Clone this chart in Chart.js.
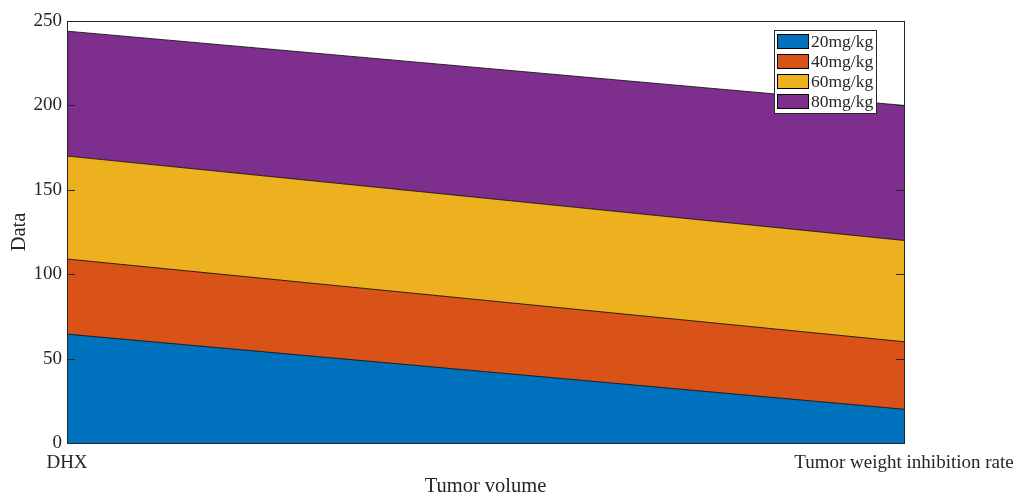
<!DOCTYPE html>
<html>
<head>
<meta charset="utf-8">
<title>Stacked area</title>
<script src="https://cdn.jsdelivr.net/npm/chart.js@4.4.1/dist/chart.umd.min.js"></script>
<style>
  html, body { margin: 0; padding: 0; background: #fff; }
  #wrap { width: 1017px; height: 493px; position: relative; }
</style>
</head>
<body>
<div id="wrap"><canvas id="c"></canvas></div>
<script>
// data
const categories = ['DHX', 'Tumor weight inhibition rate'];
const seriesNames = ['20mg/kg', '40mg/kg', '60mg/kg', '80mg/kg'];
const dose20 = [64.5, 20];
const dose40 = [44.5, 40];
const dose60 = [61, 60];
const dose80 = [74, 80];
const yTicks = [0, 50, 100, 150, 200, 250];

const colors = ['#0072BD', '#D95319', '#EDB120', '#7E2F8E'];
const ink = '#262626';
const serif = '"Liberation Serif", "Times New Roman", serif';

const values = [dose20, dose40, dose60, dose80];
const datasets = values.map((v, i) => ({
  label: seriesNames[i],
  data: v,
  backgroundColor: colors[i],
  borderColor: '#000',
  borderWidth: 0.8,
  pointRadius: 0,
  tension: 0,
  fill: i === 0 ? 'origin' : '-1'
}));

// box, inward ticks and in-plot legend like matlab
const matlabAxes = {
  id: 'matlabAxes',
  afterDatasetsDraw(chart){
    const ctx = chart.ctx, a = chart.chartArea, ys = chart.scales.y;
    ctx.save();
    ctx.strokeStyle = ink;
    ctx.lineWidth = 1;
    ctx.strokeRect(Math.round(a.left) + 0.5, Math.round(a.top) + 0.5,
      Math.round(a.right - a.left), Math.round(a.bottom - a.top));
    ctx.beginPath();
    yTicks.forEach(t => {
      const py = Math.round(ys.getPixelForValue(t)) + 0.5;
      ctx.moveTo(a.left, py); ctx.lineTo(a.left + 8, py);
      ctx.moveTo(a.right, py); ctx.lineTo(a.right - 8, py);
    });
    ctx.stroke();

    // legend
    const lx = a.right - 130, ly = a.top + 9, lw = 102, lh = 83;
    ctx.fillStyle = '#fff';
    ctx.fillRect(lx, ly, lw, lh);
    ctx.strokeRect(lx + 0.5, ly + 0.5, lw, lh);
    ctx.font = '17.5px ' + serif;
    ctx.textBaseline = 'middle';
    chart.data.datasets.forEach((ds, i) => {
      const ry = ly + 4 + i * 20;
      ctx.fillStyle = ds.backgroundColor;
      ctx.fillRect(lx + 3, ry, 32, 15);
      ctx.strokeStyle = '#000';
      ctx.strokeRect(lx + 3.5, ry + 0.5, 31, 14);
      ctx.fillStyle = ink;
      ctx.fillText(ds.label, lx + 37, ry + 8);
    });
    ctx.restore();
  }
};

new Chart(document.getElementById('c'), {
  type: 'line',
  data: { labels: categories, datasets },
  options: {
    responsive: true,
    maintainAspectRatio: false,
    animation: false,
    layout: { padding: { left: 0, right: 113, top: 21, bottom: 0 } },
    plugins: { legend: { display: false }, tooltip: { enabled: false } },
    scales: {
      x: {
        offset: false,
        grid: { display: false, drawTicks: false },
        border: { display: false },
        ticks: { color: ink, font: { family: serif, size: 19 }, padding: 9, maxRotation: 0, autoSkip: false },
        title: { display: true, text: 'Tumor volume', color: ink, font: { family: serif, size: 20.5, lineHeight: 1 }, padding: { top: 0, bottom: -4 } },
        afterFit(s){ s.height = 50; s.paddingLeft = 0; s.paddingRight = 0; }
      },
      y: {
        stacked: true,
        min: 0, max: 250,
        grid: { display: false, drawTicks: false },
        border: { display: false },
        ticks: { stepSize: 50, color: ink, font: { family: serif, size: 19 }, padding: 5 },
        title: { display: true, text: 'Data', color: ink, font: { family: serif, size: 20.5 }, padding: { top: 7, bottom: 0 } },
        afterFit(s){ s.width = 67; }
      }
    }
  },
  plugins: [matlabAxes]
});
</script>
</body>
</html>
